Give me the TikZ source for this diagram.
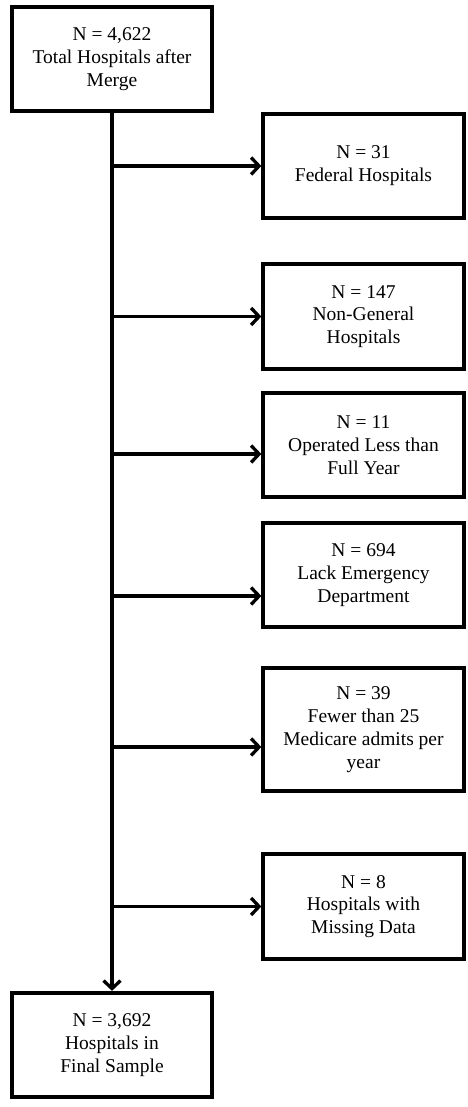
\documentclass[tikz,border=0pt]{standalone}
\usepackage{fontspec}
\setmainfont{Liberation Serif}
\usetikzlibrary{positioning,arrows.meta}

\begin{document}
\begin{tikzpicture}[
    x=1pt, y=-1pt,
    every node/.style={font=\fontsize{19.5}{22.8}\selectfont},
    box/.style={draw, line width=3.8pt, minimum width=200.5pt, minimum height=104.5pt, align=center, inner sep=2pt},
    arr/.style={-{Straight Barb[length=8pt,width=17pt]}, line width=3.3pt}
]
\useasboundingbox (0,0) rectangle (467,1107);

\node[box] (total) at (112,59) {N = 4,622\\Total Hospitals after\\Merge};
\node[box] (federal) at (363.5,166) {N = 31\\Federal Hospitals};
\node[box] (nongen) at (363.5,316.5) {N = 147\\Non-General\\Hospitals};
\node[box] (partyr) at (363.5,445) {N = 11\\Operated Less than\\Full Year};
\node[box] (noed) at (363.5,575) {N = 694\\Lack Emergency\\Department};
\node[box, minimum height=123.5pt] (lowadm) at (363.5,729.5) {N = 39\\Fewer than 25\\Medicare admits per\\year};
\node[box] (missing) at (363.5,906.5) {N = 8\\Hospitals with\\Missing Data};
\node[box] (final) at (112,1045) {N = 3,692\\Hospitals in\\Final Sample};

% arrow entry points
\coordinate (partyrIn) at ([yshift=-9pt]partyr.west);
\coordinate (noedIn) at ([yshift=-21pt]noed.west);
\coordinate (lowadmIn) at ([yshift=-17.5pt]lowadm.west);

\draw[arr] (total.south) -- (final.north);
\draw[arr] (total.south |- federal.west) -- (federal.west);
\draw[arr] (total.south |- nongen.west) -- (nongen.west);
\draw[arr] (total.south |- partyrIn) -- (partyrIn);
\draw[arr] (total.south |- noedIn) -- (noedIn);
\draw[arr] (total.south |- lowadmIn) -- (lowadmIn);
\draw[arr] (total.south |- missing.west) -- (missing.west);
\end{tikzpicture}
\end{document}
